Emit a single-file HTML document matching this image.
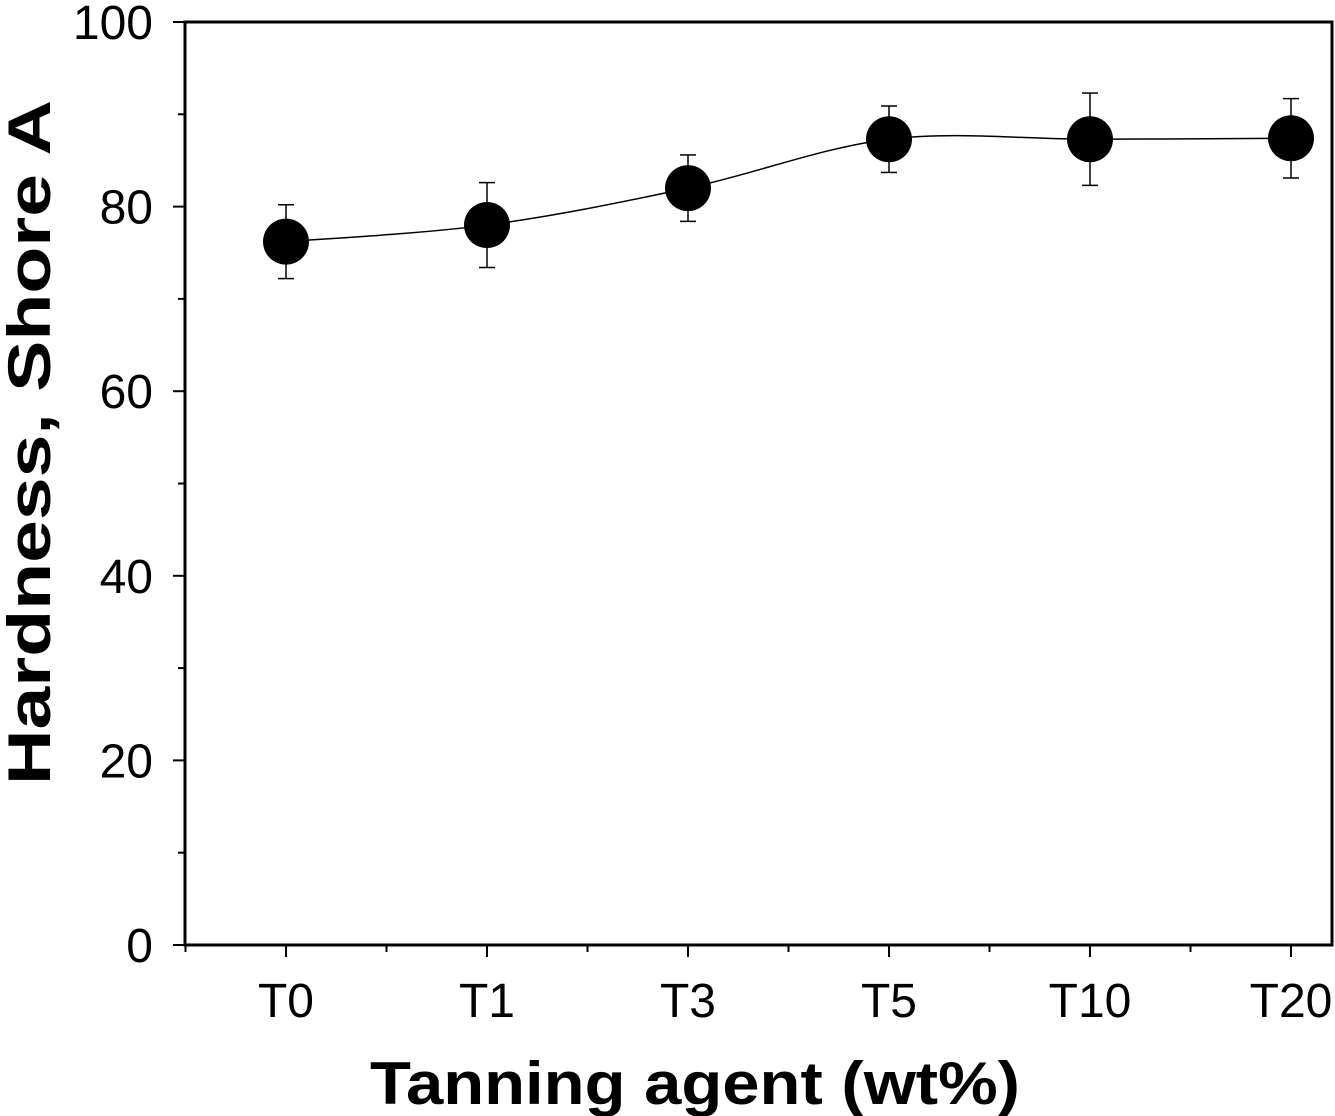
<!DOCTYPE html>
<html><head><meta charset="utf-8"><style>
html,body{margin:0;padding:0;background:#fff;}
svg{display:block;font-family:"Liberation Sans",Arial,sans-serif;}
</style></head><body>
<svg id="chart" width="1335" height="1116" viewBox="0 0 1335 1116" xmlns="http://www.w3.org/2000/svg">
<rect x="185" y="22" width="1147" height="923" fill="none" stroke="#000" stroke-width="3"/>
<g id="axes"></g>
<path id="curve" fill="none" stroke="#000" stroke-width="1.5"/>
<g id="marks"></g>
<text x="370" y="1104" font-size="60" font-weight="bold" textLength="650" lengthAdjust="spacingAndGlyphs">Tanning agent (wt%)</text>
<text transform="translate(50,785) rotate(-90)" font-size="60" font-weight="bold" textLength="685" lengthAdjust="spacingAndGlyphs">Hardness, Shore A</text>
</svg>
<script>
const categories = ["T0","T1","T3","T5","T10","T20"];
const values = [76.2, 78.0, 82.0, 87.3, 87.3, 87.4];
const errors = [4.0, 4.6, 3.6, 3.6, 5.0, 4.3];
const yTicks = [0,20,40,60,80,100];

const NS="http://www.w3.org/2000/svg";
const x0=286, dx=201;
const xs=i=>x0+i*dx;
const ys=v=>945-v*9.23;
function mk(t,a,p){const e=document.createElementNS(NS,t);for(const k in a)e.setAttribute(k,a[k]);p.appendChild(e);return e;}
const axes=document.getElementById('axes');
yTicks.forEach(v=>{
  const l=mk('line',{x1:173,x2:185,y1:ys(v),y2:ys(v),stroke:'#000','stroke-width':2},axes);
  
  
  const t=mk('text',{x:153,y:ys(v)+17,'font-size':48,'text-anchor':'end'},axes);
  t.textContent=v;
  
  
  if(v<100){const m=mk('line',{x1:178,x2:185,y1:ys(v+10),y2:ys(v+10),stroke:'#000','stroke-width':2},axes);
  
  }
});
categories.forEach((c,i)=>{
  const l=mk('line',{x1:xs(i),x2:xs(i),y1:945,y2:957,stroke:'#000','stroke-width':2},axes);
  
  
  const m=mk('line',{x1:xs(i)-dx/2,x2:xs(i)-dx/2,y1:945,y2:952,stroke:'#000','stroke-width':2},axes);
  
  
  const t=mk('text',{x:xs(i),y:1017,'font-size':48,'text-anchor':'middle'},axes);
  t.textContent=c;
  
  
});
const P=values.map((v,i)=>[xs(i),ys(v)]);
let d=`M${P[0][0]},${P[0][1]}`;
for(let i=0;i<P.length-1;i++){
  const p0=P[Math.max(i-1,0)],p1=P[i],p2=P[i+1],p3=P[Math.min(i+2,P.length-1)];
  const c1=[p1[0]+(p2[0]-p0[0])/6,p1[1]+(p2[1]-p0[1])/6];
  const c2=[p2[0]-(p3[0]-p1[0])/6,p2[1]-(p3[1]-p1[1])/6];
  d+=` C${c1[0]},${c1[1]} ${c2[0]},${c2[1]} ${p2[0]},${p2[1]}`;
}
document.getElementById('curve').setAttribute('d',d);
const marks=document.getElementById('marks');
values.forEach((v,i)=>{
  const x=xs(i),yt=ys(v+errors[i]),yb=ys(v-errors[i]);
  const g=mk('g',{},marks);
  
  
  mk('line',{x1:x,x2:x,y1:yt,y2:yb,stroke:'#000','stroke-width':1.5},g);
  mk('line',{x1:x-8,x2:x+8,y1:yt,y2:yt,stroke:'#000','stroke-width':1.5},g);
  mk('line',{x1:x-8,x2:x+8,y1:yb,y2:yb,stroke:'#000','stroke-width':1.5},g);
  const c=mk('circle',{cx:x,cy:ys(v),r:23,fill:'#000'},marks);
  
  
});
</script>
</body></html>
